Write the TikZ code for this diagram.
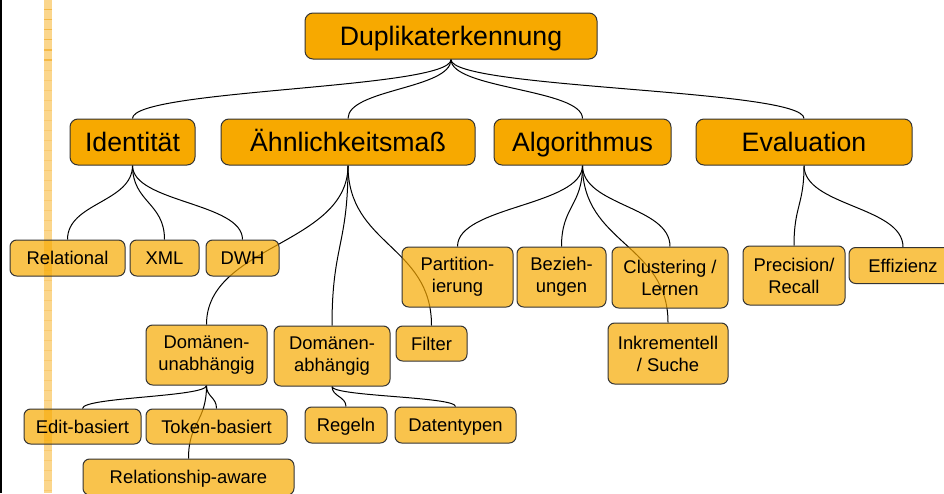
\documentclass[tikz,border=0pt]{standalone}
\usepackage{fontspec}
\setmainfont{Liberation Sans}
\usetikzlibrary{calc}
\pgfdeclarelayer{bg}
\pgfsetlayers{bg,main}
\definecolor{orA}{RGB}{247,169,0}
\definecolor{stripe}{RGB}{251,214,140}
\definecolor{stripeline}{RGB}{245,185,70}
\tikzset{
  sz/.style 2 args={minimum width=#1*0.75pt, minimum height=#2*0.75pt},
  lvA/.style={draw=black!80, line width=0.75pt, fill=orA, rounded corners=6pt,
    inner sep=0pt, align=center, font=\fontsize{20}{24}\selectfont,
    text height=14.6pt, text depth=0pt},
  lvB/.style={draw=black!80, line width=0.75pt, fill=orA, fill opacity=0.7, text opacity=1,
    rounded corners=5pt, inner sep=0pt, align=center,
    font=\fontsize{13.8}{16.5}\selectfont},
  one/.style={text height=10.2pt, text depth=0pt},
  conn/.style={draw=black, line width=0.75pt},
}
\newcommand\cconn[2]{\draw[conn] let \p1=(#1), \p2=(#2) in (\p1) .. controls (\x1,{0.5*(\y1+\y2)}) and (\x2,{0.5*(\y1+\y2)}) .. (\p2);}
\begin{document}
\begin{tikzpicture}[x=0.75pt,y=-0.75pt]
\useasboundingbox (0,0) rectangle (944,493);
% level 1
\node[lvA, sz={292}{46}] (dup) at (451,36) {Duplikaterkennung};
\node[lvA, sz={125}{46}] (ident) at (132.5,142) {Identität};
\node[lvA, sz={254}{46}] (aehn) at (348,142) {Ähnlichkeitsmaß};
\node[lvA, sz={177}{46}] (algo) at (582.5,142) {Algorithmus};
\node[lvA, sz={216}{46}] (eval) at (804,142) {Evaluation};
% level 2
\node[lvB, one, sz={115}{36}] (rel) at (67.5,258) {Relational};
\node[lvB, one, sz={69}{36}] (xml) at (164.5,258) {XML};
\node[lvB, one, sz={73}{36}] (dwh) at (242.5,258) {DWH};
\node[lvB, sz={121}{60}] (unab) at (206.5,355) {Domänen-\\unabhängig};
\node[lvB, one, sz={117}{35}] (edit) at (82.5,426.5) {Edit-basiert};
\node[lvB, one, sz={141}{35}] (token) at (216.5,426.5) {Token-basiert};
\node[lvB, one, sz={211}{36}] (relaw) at (188.5,477) {Relationship-aware};
\node[lvB, sz={116}{60}] (abh) at (332,356) {Domänen-\\abhängig};
\node[lvB, one, sz={71}{35}] (filter) at (431.5,343.5) {Filter};
\node[lvB, one, sz={82}{36}] (regeln) at (346,425) {Regeln};
\node[lvB, one, sz={121}{36}] (daten) at (455.5,425) {Datentypen};
\node[lvB, sz={111}{60}] (part) at (457.5,277) {Partition-\\ierung};
\node[lvB, sz={89}{60}] (bez) at (561.5,277) {Bezieh-\\ungen};
\node[lvB, sz={116}{61}] (clus) at (670,277.5) {Clustering /\\Lernen};
\node[lvB, sz={120}{61}] (inkr) at (668,353.5) {Inkrementell\\/ Suche};
\node[lvB, sz={102}{59}] (prec) at (794,275.5) {Precision/\\Recall};
\node[lvB, one, sz={108}{36}] (eff) at (903,265.5) {Effizienz};
\begin{pgfonlayer}{bg}
  % left border and stripe
  \fill[black] (0,0) rectangle (1.5,493);
  \fill[stripe] (44,0) rectangle (52,493);
  \foreach \yy in {9.5,19.5,29.5,39.5,50,60}
    \draw[stripeline, line width=0.9pt] (44,\yy) -- (52,\yy);
  \foreach \yy in {70,80,...,490}
    \draw[stripeline!40!stripe, line width=0.6pt] (44,\yy) -- (52,\yy);
  % connectors
  \cconn{dup.south}{ident.north}
  \cconn{dup.south}{aehn.north}
  \cconn{dup.south}{algo.north}
  \cconn{dup.south}{eval.north}
  \cconn{ident.south}{rel.north}
  \cconn{ident.south}{xml.north}
  \cconn{ident.south}{dwh.north}
  \cconn{aehn.south}{unab.north}
  \cconn{aehn.south}{abh.north}
  \cconn{aehn.south}{filter.north}
  \cconn{algo.south}{part.north}
  \cconn{algo.south}{bez.north}
  \cconn{algo.south}{clus.north}
  \cconn{algo.south}{inkr.north}
  \cconn{eval.south}{prec.north}
  \cconn{eval.south}{eff.north}
  \cconn{unab.south}{edit.north}
  \cconn{unab.south}{token.north}
  \cconn{unab.south}{relaw.north}
  \cconn{abh.south}{regeln.north}
  \cconn{abh.south}{daten.north}
\end{pgfonlayer}
\end{tikzpicture}
\end{document}
